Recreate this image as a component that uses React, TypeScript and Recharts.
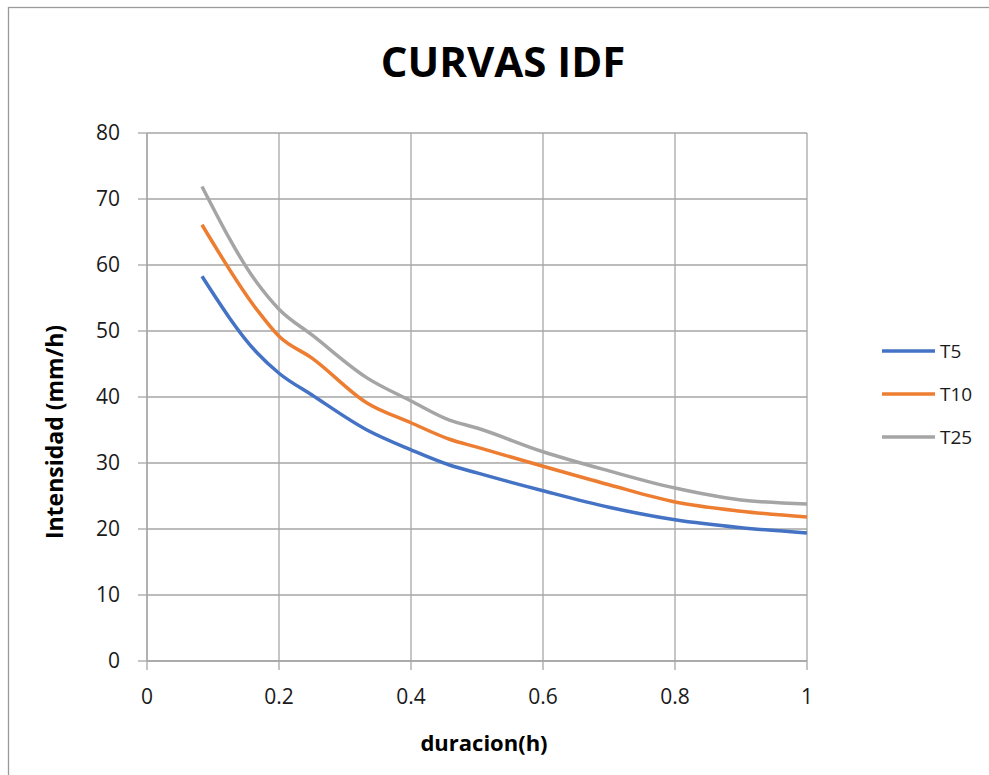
import React from 'react';
import { LineChart, Line, XAxis, YAxis, CartesianGrid } from 'recharts';

const durations = [0.0833, 0.1667, 0.2, 0.25, 0.3333, 0.4, 0.4583, 0.5, 0.6, 0.7, 0.8, 0.9, 1.0];
const t5 = [58.3, 46.7, 43.6, 40.3, 35.0, 32.0, 29.7, 28.5, 25.8, 23.3, 21.4, 20.2, 19.4];
const t10 = [66.1, 53.2, 49.2, 45.9, 39.1, 36.1, 33.6, 32.4, 29.5, 26.7, 24.1, 22.7, 21.8];
const t25 = [71.9, 57.3, 53.3, 49.4, 42.9, 39.4, 36.5, 35.3, 31.7, 28.8, 26.2, 24.4, 23.8];

const xTicks = [0, 0.2, 0.4, 0.6, 0.8, 1];
const yTicks = [0, 10, 20, 30, 40, 50, 60, 70, 80];

const seriesNames = ['T5', 'T10', 'T25'];
const seriesKeys = ['t5', 't10', 't25'];
const seriesColors = ['#4472C4', '#ED7D31', '#A5A5A5'];

const data = durations.map((d, i) => ({ d, t5: t5[i], t10: t10[i], t25: t25[i] }));

const FONT = '"Open Sans", "Liberation Sans", sans-serif';
const GRID = '#a6a6a6';

export default function App() {
  return (
    <div style={{ position: 'absolute', left: 0, top: 0, width: 989, height: 775, background: '#fff', fontFamily: FONT }}>
      <LineChart width={989} height={775} data={data} margin={{ top: 133, right: 182, left: 0, bottom: 14 }}>
        <CartesianGrid stroke={GRID} strokeWidth={1.3} />
        <XAxis
          dataKey="d"
          type="number"
          domain={[0, 1]}
          ticks={xTicks}
          height={100}
          tickSize={9}
          tickMargin={19}
          axisLine={{ stroke: GRID, strokeWidth: 1.3 }}
          tickLine={{ stroke: GRID, strokeWidth: 1.3 }}
          tick={{ fill: '#1a1a1a', fontSize: 21, fontFamily: FONT }}
          tickFormatter={(v: number) => String(v)}
        />
        <YAxis
          type="number"
          domain={[0, 80]}
          ticks={yTicks}
          width={147}
          tickSize={9}
          tickMargin={18}
          axisLine={{ stroke: GRID, strokeWidth: 1.3 }}
          tickLine={{ stroke: GRID, strokeWidth: 1.3 }}
          tick={{ fill: '#1a1a1a', fontSize: 21, fontFamily: FONT }}
        />
        {seriesKeys.map((k, i) => (
          <Line
            key={k}
            dataKey={k}
            name={seriesNames[i]}
            type="monotone"
            stroke={seriesColors[i]}
            strokeWidth={3.5}
            dot={false}
            activeDot={false}
            isAnimationActive={false}
          />
        ))}
      </LineChart>
      <svg width={989} height={775} style={{ position: 'absolute', left: 0, top: 0, pointerEvents: 'none' }}>
        <rect x={8.5} y={7.5} width={1100} height={900} fill="none" stroke="#9a9a9a" strokeWidth={1.3} />
        <text x={503} y={77} textAnchor="middle" fontSize={42} fontWeight="bold" fontFamily={FONT} fill="#000">CURVAS IDF</text>
        <text x={484} y={751} textAnchor="middle" fontSize={22} fontWeight="bold" fontFamily={FONT} fill="#000">duracion(h)</text>
        <text x={0} y={0} transform="translate(63,432) rotate(-90)" textAnchor="middle" fontSize={23} fontWeight="bold" fontFamily={FONT} fill="#000">Intensidad (mm/h)</text>
        {seriesNames.map((n, i) => (
          <g key={n}>
            <line x1={882} x2={935} y1={351 + i * 43} y2={351 + i * 43} stroke={seriesColors[i]} strokeWidth={3.5} />
            <text x={940} y={351 + i * 43} dy="0.35em" fontSize={19} fontFamily={FONT} fill="#1a1a1a">{n}</text>
          </g>
        ))}
      </svg>
    </div>
  );
}
